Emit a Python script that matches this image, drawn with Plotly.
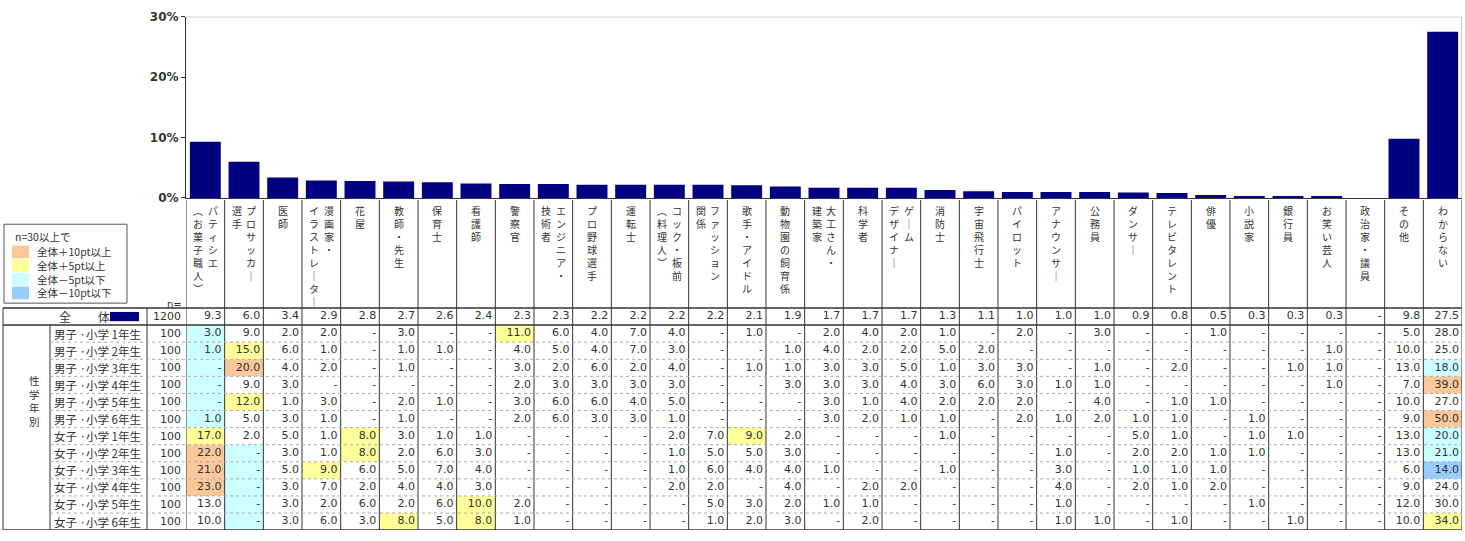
import plotly.graph_objects as go

# 職業ラベル（縦書き：右の列から左の列へ）
jobs = [["パティシエ", "（お菓子職人）"], ["プロサッカー", "選手"], ["医師"], ["漫画家・", "イラストレーター"],
        ["花屋"], ["教師・先生"], ["保育士"], ["看護師"], ["警察官"], ["エンジニア・", "技術者"],
        ["プロ野球選手"], ["運転士"], ["コック・板前", "（料理人）"], ["ファッション", "関係"],
        ["歌手・アイドル"], ["動物園の飼育係"], ["大工さん・", "建築家"], ["科学者"], ["ゲーム", "デザイナー"],
        ["消防士"], ["宇宙飛行士"], ["パイロット"], ["アナウンサー"], ["公務員"], ["ダンサー"],
        ["テレビタレント"], ["俳優"], ["小説家"], ["銀行員"], ["お笑い芸人"], ["政治家・議員"],
        ["その他"], ["わからない"]]

total = [9.3, 6.0, 3.4, 2.9, 2.8, 2.7, 2.6, 2.4, 2.3, 2.3, 2.2, 2.2, 2.2, 2.2, 2.1, 1.9, 1.7,
         1.7, 1.7, 1.3, 1.1, 1.0, 1.0, 1.0, 0.9, 0.8, 0.5, 0.3, 0.3, 0.3, 0, 9.8, 27.5]

row_labels = ["男子 ·小学 1年生", "男子 ·小学 2年生", "男子 ·小学 3年生", "男子 ·小学 4年生",
              "男子 ·小学 5年生", "男子 ·小学 6年生", "女子 ·小学 1年生", "女子 ·小学 2年生",
              "女子 ·小学 3年生", "女子 ·小学 4年生", "女子 ·小学 5年生", "女子 ·小学 6年生"]
n_total = 1200
n_rows = [100] * 12

m1 = [3.0, 9.0, 2.0, 2.0, 0, 3.0, 0, 0, 11.0, 6.0, 4.0, 7.0, 4.0, 0, 1.0, 0, 2.0, 4.0, 2.0, 1.0, 0, 2.0, 0, 3.0, 0, 0, 1.0, 0, 0, 0, 0, 5.0, 28.0]
m2 = [1.0, 15.0, 6.0, 1.0, 0, 1.0, 1.0, 0, 4.0, 5.0, 4.0, 7.0, 3.0, 0, 0, 1.0, 4.0, 2.0, 2.0, 5.0, 2.0, 0, 0, 0, 0, 0, 0, 0, 0, 1.0, 0, 10.0, 25.0]
m3 = [0, 20.0, 4.0, 2.0, 0, 1.0, 0, 0, 3.0, 2.0, 6.0, 2.0, 4.0, 0, 1.0, 1.0, 3.0, 3.0, 5.0, 1.0, 3.0, 3.0, 0, 1.0, 0, 2.0, 0, 0, 1.0, 1.0, 0, 13.0, 18.0]
m4 = [0, 9.0, 3.0, 0, 0, 0, 0, 0, 2.0, 3.0, 3.0, 3.0, 3.0, 0, 0, 3.0, 3.0, 3.0, 4.0, 3.0, 6.0, 3.0, 1.0, 1.0, 0, 0, 0, 0, 0, 1.0, 0, 7.0, 39.0]
m5 = [0, 12.0, 1.0, 3.0, 0, 2.0, 1.0, 0, 3.0, 6.0, 6.0, 4.0, 5.0, 0, 0, 0, 3.0, 1.0, 4.0, 2.0, 2.0, 2.0, 0, 4.0, 0, 1.0, 1.0, 0, 0, 0, 0, 10.0, 27.0]
m6 = [1.0, 5.0, 3.0, 1.0, 0, 1.0, 0, 0, 2.0, 6.0, 3.0, 3.0, 1.0, 0, 0, 0, 3.0, 2.0, 1.0, 1.0, 0, 2.0, 1.0, 2.0, 1.0, 1.0, 0, 1.0, 0, 0, 0, 9.0, 50.0]
f1 = [17.0, 2.0, 5.0, 1.0, 8.0, 3.0, 1.0, 1.0, 0, 0, 0, 0, 2.0, 7.0, 9.0, 2.0, 0, 0, 0, 1.0, 0, 0, 0, 0, 5.0, 1.0, 0, 1.0, 1.0, 0, 0, 13.0, 20.0]
f2 = [22.0, 0, 3.0, 1.0, 8.0, 2.0, 6.0, 3.0, 0, 0, 0, 0, 1.0, 5.0, 5.0, 3.0, 0, 0, 0, 0, 0, 0, 1.0, 0, 2.0, 2.0, 1.0, 1.0, 0, 0, 0, 13.0, 21.0]
f3 = [21.0, 0, 5.0, 9.0, 6.0, 5.0, 7.0, 4.0, 0, 0, 0, 0, 1.0, 6.0, 4.0, 4.0, 1.0, 0, 0, 1.0, 0, 0, 3.0, 0, 1.0, 1.0, 1.0, 0, 0, 0, 0, 6.0, 14.0]
f4 = [23.0, 0, 3.0, 7.0, 2.0, 4.0, 4.0, 3.0, 0, 0, 0, 0, 2.0, 2.0, 0, 4.0, 0, 2.0, 2.0, 0, 0, 0, 4.0, 0, 2.0, 1.0, 2.0, 0, 0, 0, 0, 9.0, 24.0]
f5 = [13.0, 0, 3.0, 2.0, 6.0, 2.0, 6.0, 10.0, 2.0, 0, 0, 0, 0, 5.0, 3.0, 2.0, 1.0, 1.0, 0, 0, 0, 0, 1.0, 0, 0, 0, 0, 1.0, 0, 0, 0, 12.0, 30.0]
f6 = [10.0, 0, 3.0, 6.0, 3.0, 8.0, 5.0, 8.0, 1.0, 0, 0, 0, 0, 1.0, 2.0, 3.0, 0, 2.0, 0, 0, 0, 0, 1.0, 1.0, 0, 1.0, 0, 0, 1.0, 0, 0, 10.0, 34.0]
rows = [m1, m2, m3, m4, m5, m6, f1, f2, f3, f4, f5, f6]

y_ticks = [0, 10, 20, 30]
legend_items = ["全体＋10pt以上", "全体＋5pt以上", "全体－5pt以下", "全体－10pt以下"]
legend_colors = ["#FAC89B", "#FFFF99", "#CCFFFF", "#99CCFF"]

W, H = 1465, 541
def px(x): return x / W
def py(y): return 1 - y / H

NAVY = "#000080"
LINE = "#333333"
TXT = "#333333"
JP = "Noto Sans CJK JP"
NUM = "DejaVu Sans"


def fmt(v):
    return "-" if v == 0 else "{0:.1f}".format(v)


def cell_color(v, t):
    d = round(v - t, 1)
    if d >= 10:
        return legend_colors[0]
    if d >= 5:
        return legend_colors[1]
    if d <= -10:
        return legend_colors[3]
    if d <= -5:
        return legend_colors[2]
    return None


def vert(s):
    return "<br>".join(s.replace("ー", "｜").replace("（", "︵").replace("）", "︶"))


ncol = len(total)
xs = list(range(ncol))

fig = go.Figure()

fig.add_trace(go.Bar(x=xs, y=total, width=0.8, marker=dict(color=NAVY, line=dict(width=0)),
                     showlegend=False, hoverinfo="skip"))

# table numbers
tx, ty, tt = [], [], []
for i in xs:
    tx.append(i + 0.42); ty.append(0); tt.append(fmt(total[i]))
    for r, row in enumerate(rows):
        tx.append(i + 0.42); ty.append(r + 1); tt.append(fmt(row[i]))
fig.add_trace(go.Scatter(x=tx, y=ty, text=tt, mode="text", textposition="middle left",
                         textfont=dict(family=NUM, size=11, color=TXT), yaxis="y2", cliponaxis=False,
                         showlegend=False, hoverinfo="skip"))

shapes = []
annotations = []

# vertical header labels
for i, parts in enumerate(jobs):
    offs = [0] if len(parts) == 1 else [0.19, -0.19]
    for off, part in zip(offs, parts):
        annotations.append(dict(x=i + off, y=-6.77, xref="x", yref="y2", text=vert(part), showarrow=False,
                                yanchor="top", xanchor="center", align="center",
                                font=dict(family=JP, size=10, color=TXT)))

# coloured cells
for r, row in enumerate(rows):
    for i in xs:
        c = cell_color(row[i], total[i])
        if c:
            shapes.append(dict(type="rect", xref="x", yref="y2", x0=i - 0.5, x1=i + 0.5,
                               y0=r + 0.5, y1=r + 1.5, fillcolor=c, line=dict(width=0), layer="below"))

# column lines
for i in range(ncol + 1):
    shapes.append(dict(type="line", xref="x", yref="y2", x0=i - 0.5, x1=i - 0.5, y0=-6.83, y1=12.5,
                       line=dict(color=LINE, width=1)))
for xp, y0 in [(3, -0.5), (50, 0.5), (147, -0.5)]:
    shapes.append(dict(type="line", xref="paper", yref="y2", x0=px(xp), x1=px(xp), y0=y0, y1=12.5,
                       line=dict(color=LINE, width=1)))
# row lines
for yv in [-0.5, 0.5, 12.5]:
    shapes.append(dict(type="line", xref="paper", yref="y2", x0=px(3), x1=px(1462), y0=yv, y1=yv,
                       line=dict(color=LINE, width=1.5)))
for r in range(1, 12):
    shapes.append(dict(type="line", xref="paper", yref="y2", x0=px(50), x1=px(1462), y0=r + 0.5, y1=r + 0.5,
                       line=dict(color="#aaaaaa", width=1, dash="dot")))
# plot frame
shapes.append(dict(type="line", xref="x", yref="y", x0=-0.5, x1=ncol - 0.5, y0=30, y1=30,
                   line=dict(color="#999999", width=1)))
shapes.append(dict(type="line", xref="x", yref="y", x0=ncol - 0.5, x1=ncol - 0.5, y0=0, y1=30,
                   line=dict(color="#999999", width=1)))

# legend box
shapes.append(dict(type="rect", xref="paper", yref="paper", x0=px(4), x1=px(127), y0=py(304), y1=py(223),
                   line=dict(color="#555555", width=1)))
annotations.append(dict(x=px(13), y=py(236), xref="paper", yref="paper", text="n=30以上で", showarrow=False,
                        xanchor="left", font=dict(family=JP, size=10.5, color=TXT)))
for k, (lab, col) in enumerate(zip(legend_items, legend_colors)):
    y0 = 245 + k * 14
    shapes.append(dict(type="rect", xref="paper", yref="paper", x0=px(12), x1=px(29), y0=py(y0 + 13), y1=py(y0),
                       fillcolor=col, line=dict(width=0)))
    annotations.append(dict(x=px(35), y=py(y0 + 6.5), xref="paper", yref="paper", text=lab, showarrow=False,
                            xanchor="left", font=dict(family=JP, size=10.5, color=TXT)))

# total row
shapes.append(dict(type="rect", xref="paper", yref="y2", x0=px(110), x1=px(139), y0=-0.27, y1=0.27,
                   fillcolor=NAVY, line=dict(width=0)))
annotations.append(dict(x=px(57), y=0, xref="paper", yref="y2", text="全", showarrow=False,
                        font=dict(family=JP, size=12, color=TXT)))
annotations.append(dict(x=px(96), y=0, xref="paper", yref="y2", text="体", showarrow=False,
                        font=dict(family=JP, size=12, color=TXT)))
annotations.append(dict(x=px(183), y=0, xref="paper", yref="y2", text=str(n_total), showarrow=False,
                        xanchor="right", font=dict(family=NUM, size=11, color=TXT)))
annotations.append(dict(x=px(165), y=py(305), xref="paper", yref="paper", text="n=", showarrow=False,
                        font=dict(family=NUM, size=10, color=TXT)))
for r, lab in enumerate(row_labels):
    annotations.append(dict(x=px(52), y=r + 1, xref="paper", yref="y2", text=lab, showarrow=False,
                            xanchor="left", font=dict(family=JP, size=11.5, color=TXT)))
    annotations.append(dict(x=px(183), y=r + 1, xref="paper", yref="y2", text=str(n_rows[r]), showarrow=False,
                            xanchor="right", font=dict(family=NUM, size=11, color=TXT)))
annotations.append(dict(x=px(27), y=py(435), xref="paper", yref="paper", text="<br>".join("性学年別"),
                        showarrow=False, font=dict(family=JP, size=10.5, color=TXT)))

fig.update_layout(
    width=W, height=H,
    margin=dict(l=0, r=0, t=0, b=0),
    plot_bgcolor="white", paper_bgcolor="white",
    xaxis=dict(domain=[px(186), px(1462)], range=[-0.5, ncol - 0.5], showticklabels=False, ticks="",
               showgrid=False, zeroline=False, showline=True, linecolor=LINE, anchor="y", fixedrange=True),
    yaxis=dict(domain=[py(196), py(10)], range=[0, 30], tickvals=y_ticks,
               ticktext=["<b>%d%%</b>" % v for v in y_ticks],
               ticks="outside", ticklen=4, tickcolor=LINE, showline=True, linecolor=LINE, showgrid=False,
               zeroline=False, tickfont=dict(family=NUM, size=12, color=TXT), anchor="x"),
    yaxis2=dict(domain=[py(537), py(198)], range=[12.5, -6.83], visible=False, anchor="x"),
    shapes=shapes,
    annotations=annotations,
    font=dict(family=JP),
)

fig.write_html("out.html", config={"displayModeBar": False},
               post_script="document.body.style.margin='0px';")
